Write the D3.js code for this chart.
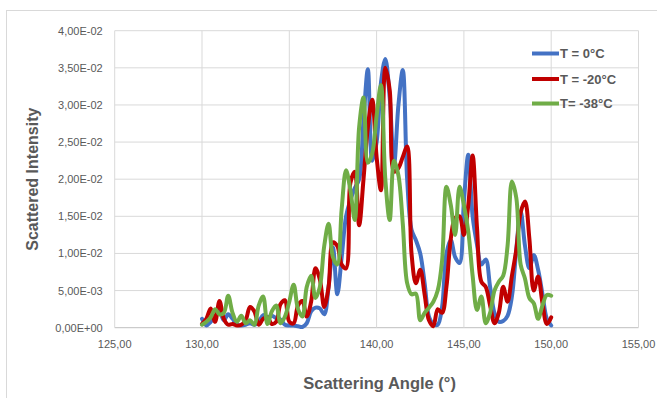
<!DOCTYPE html>
<html><head><meta charset="utf-8">
<script src="https://cdn.jsdelivr.net/npm/d3@7"></script>
<style>body{margin:0;background:#fff;}svg{display:block;font-family:"Liberation Sans",Arial,sans-serif;}</style>
</head><body>
<svg id="c" width="657" height="398"></svg>
<script>
// angles (degrees)
const angles = [130,130.25,130.5,130.75,131,131.25,131.5,131.75,132,132.25,132.5,132.75,133,133.25,133.5,133.75,
134,134.25,134.5,134.75,135,135.25,135.5,135.75,136,136.25,136.5,136.75,137,137.25,137.5,137.75,
138,138.25,138.5,138.75,139,139.25,139.5,139.75,140,140.25,140.5,140.75,141,141.25,141.5,141.75,
142,142.25,142.5,142.75,143,143.25,143.5,143.75,144,144.25,144.5,144.75,145,145.25,145.5,145.75,
146,146.25,146.5,146.75,147,147.25,147.5,147.75,148,148.25,148.5,148.75,149,149.25,149.5,149.75,150];
// intensities in units of 1E-02
const t0 = [0.12,0.03,0.08,0.15,0.22,0.10,0.18,0.12,0.04,0.03,0.04,0.06,0.04,0.08,0.17,0.14,
0.16,0.13,0.11,0.04,0.03,0.03,0.02,0.01,0.06,0.22,0.27,0.26,0.18,0.55,1.08,0.45,
0.95,1.50,1.72,1.88,2.0,2.8,3.48,2.25,2.5,3.3,3.62,3.1,2.2,3.0,3.47,2.0,
1.32,1.18,1.0,0.6,0.15,0.05,0.04,0.28,1.0,1.18,0.95,0.87,1.7,2.33,1.5,1.12,
0.85,0.92,0.55,0.2,0.08,0.09,0.16,0.42,1.05,1.57,1.1,0.8,0.98,0.78,0.45,0.12,0.03];
const t20 = [0.05,0.12,0.26,0.08,0.36,0.12,0.04,0.05,0.03,0.04,0.10,0.28,0.22,0.04,0.12,0.14,
0.05,0.08,0.32,0.37,0.08,0.06,0.30,0.36,0.15,0.35,0.8,0.65,0.28,0.55,1.15,1.1,
0.85,0.8,1.95,2.1,1.38,2.0,2.7,3.07,2.3,1.85,3.5,3.2,2.1,2.15,2.3,2.44,
1.0,0.6,0.78,0.45,0.1,0.02,0.25,0.2,0.55,1.2,1.48,1.5,1.25,1.65,2.32,1.35,
0.62,0.55,0.3,0.06,0.2,0.55,0.35,0.7,1.05,1.55,1.7,1.2,0.5,0.69,0.33,0.05,0.14];
const t38 = [0.04,0.08,0.14,0.25,0.18,0.2,0.43,0.2,0.08,0.16,0.06,0.1,0.04,0.3,0.42,0.05,
0.22,0.3,0.06,0.15,0.35,0.58,0.25,0.15,0.55,0.7,0.4,0.55,1.1,1.4,0.95,0.85,
1.6,2.12,1.85,1.45,2.7,3.1,2.22,2.35,2.85,3.27,2.0,1.45,2.25,2.05,1.4,0.6,
0.45,0.46,0.1,0.2,0.27,0.35,0.5,0.9,1.9,1.65,1.25,1.9,1.65,1.3,0.7,0.24,
0.42,0.06,0.2,0.5,0.62,0.7,1.1,1.97,1.75,0.85,0.66,0.4,0.33,0.12,0.3,0.44,0.43];
const seriesNames = ["T = 0°C","T = -20°C","T= -38°C"];
const seriesColors = ["#4472C4","#C00000","#70AD47"];
const xTicks = [125,130,135,140,145,150,155];
const xTickLabels = ["125,00","130,00","135,00","140,00","145,00","150,00","155,00"];
const yTicks = [0,0.5,1,1.5,2,2.5,3,3.5,4];
const yTickLabels = ["0,00E+00","5,00E-03","1,00E-02","1,50E-02","2,00E-02","2,50E-02","3,00E-02","3,50E-02","4,00E-02"];

const svg = d3.select("#c");
const L=114.7, R=638.5, T=30.7, B=327.7;
const x = d3.scaleLinear().domain([125,155]).range([L,R]);
const y = d3.scaleLinear().domain([0,4]).range([B,T]);

// chart border
svg.append("rect").attr("x",6.5).attr("y",10.5).attr("width",660).attr("height",400)
  .attr("fill","none").attr("stroke","#d9d9d9");

// grid
svg.append("g").selectAll("line").data(yTicks).join("line")
  .attr("x1",L).attr("x2",R).attr("y1",d=>y(d)).attr("y2",d=>y(d))
  .attr("stroke",(d)=>d===0?"#bfbfbf":"#d9d9d9").attr("stroke-width",1);
svg.append("g").selectAll("line").data(xTicks).join("line")
  .attr("x1",d=>x(d)).attr("x2",d=>x(d)).attr("y1",T).attr("y2",B)
  .attr("stroke","#d9d9d9").attr("stroke-width",1);

// tick labels
svg.append("g").selectAll("text").data(yTicks).join("text")
  .attr("x",L-12).attr("y",d=>y(d)+4).attr("text-anchor","end")
  .attr("font-size",11).attr("fill","#595959").text((d,i)=>yTickLabels[i]);
svg.append("g").selectAll("text").data(xTicks).join("text")
  .attr("x",d=>x(d)).attr("y",B+20).attr("text-anchor","middle")
  .attr("font-size",11).attr("fill","#595959").text((d,i)=>xTickLabels[i]);

// titles
svg.append("text").attr("transform",`translate(38,${(T+B)/2}) rotate(-90)`)
  .attr("text-anchor","middle").attr("font-size",16).attr("font-weight","bold")
  .attr("fill","#595959").text("Scattered Intensity");
svg.append("text").attr("x",(L+R)/2+3).attr("y",389).attr("text-anchor","middle")
  .attr("font-size",16.5).attr("font-weight","bold").attr("fill","#595959")
  .text("Scattering Angle (°)");

// lines
const line = d3.line().x(d=>x(d[0])).y(d=>y(d[1])).curve(d3.curveCatmullRom.alpha(0.5));
[t0,t20,t38].forEach((vals,i)=>{
  svg.append("path").datum(angles.map((a,j)=>[a,vals[j]]))
    .attr("d",line).attr("fill","none").attr("stroke",seriesColors[i])
    .attr("stroke-width",4).attr("stroke-linejoin","round").attr("stroke-linecap","round");
});

// legend
const lg = svg.append("g");
const ly = [53.5,79,103.5];
seriesNames.forEach((n,i)=>{
  lg.append("line").attr("x1",532).attr("x2",559).attr("y1",ly[i]).attr("y2",ly[i])
    .attr("stroke",seriesColors[i]).attr("stroke-width",4);
  lg.append("text").attr("x",560).attr("y",ly[i]+4.5).attr("font-size",13)
    .attr("font-weight","bold").attr("fill","#595959").text(n);
});
</script>
</body></html>
